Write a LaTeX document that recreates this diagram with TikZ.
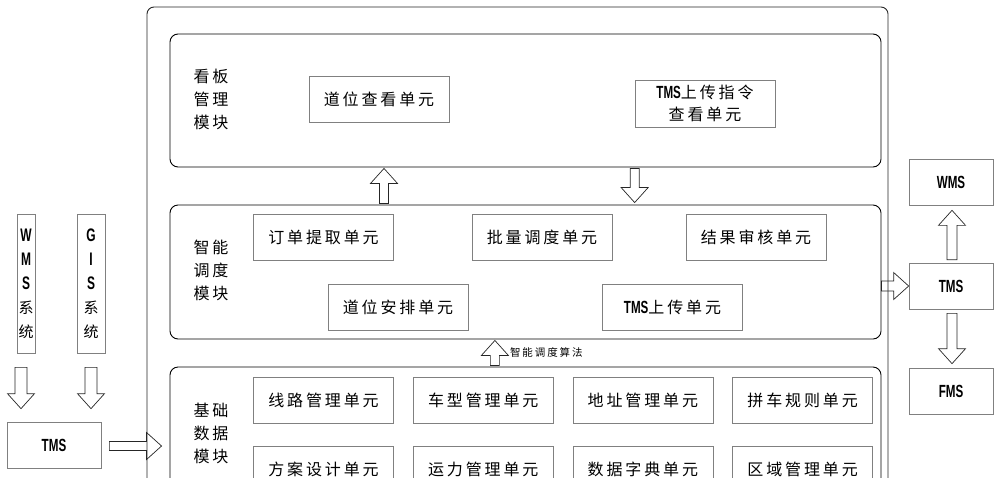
\documentclass[tikz,border=0pt]{standalone}
\usepackage{fontspec}
\setmainfont{Noto Sans CJK SC}
\newfontfamily\cnfont[LetterSpace=18]{Noto Sans CJK SC}
\newfontfamily\latfont[FakeStretch=0.66,Scale=1.1]{Liberation Sans}
\usetikzlibrary{positioning, calc}
\newcommand{\lat}[1]{{\latfont\bfseries #1}}
\newcommand{\vl}[1]{{\fontsize{16.5}{24}\selectfont\lat{#1}}}
% hollow block arrow between two points, optional shaft half-width
\newcommand{\fatarrow}[3][4.5pt]{%
  \coordinate (fa-s) at (#2);
  \coordinate (fa-e) at (#3);
  \coordinate (fa-m) at ($(fa-e)!15pt!(fa-s)$);
  \draw[fat] ($(fa-s)!#1!90:(fa-e)$) -- ($(fa-m)!#1!90:(fa-e)$)
    -- ($(fa-m)!13.5pt!90:(fa-e)$) -- (fa-e) -- ($(fa-m)!13.5pt!-90:(fa-e)$)
    -- ($(fa-m)!#1!-90:(fa-e)$) -- ($(fa-s)!#1!-90:(fa-e)$) -- cycle;}
\tikzset{
  sysbox/.style={draw=black!85, line width=0.9pt, rounded corners=7pt, minimum width=741pt, minimum height=503pt},
  module/.style={draw, line width=0.9pt, rounded corners=8pt, minimum width=711pt},
  unit/.style={draw=black!50, line width=0.7pt, minimum width=140pt, minimum height=46pt, inner sep=0pt, align=center, font=\cnfont\fontsize{16}{22}\selectfont},
  modlbl/.style={align=center, inner sep=0pt, font=\cnfont\fontsize{16}{23}\selectfont},
  extbox/.style={draw=black!50, line width=0.7pt, minimum height=46pt, inner sep=0pt, align=center, font=\fontsize{16}{20}\selectfont},
  vbox/.style={draw=black!50, line width=0.7pt, minimum height=139pt, inner sep=0pt, align=center, font=\cnfont\fontsize{15}{24}\selectfont},
  alglbl/.style={inner sep=0pt, anchor=west, font=\cnfont\fontsize{10.5}{12}\selectfont},
  fat/.style={draw=black!85, line width=0.7pt, line join=miter}
}

\begin{document}
\begin{tikzpicture}[x=1pt, y=-1pt]
\useasboundingbox (0,0) rectangle (1000,477);
\clip (0,0) rectangle (1000,477);
\node[sysbox] (sys) at (517.5,258.5) {};
% modules
\node[module, minimum height=133pt] (kb) at (525.5,100.5) {};
\node[module, minimum height=134pt] (zn) at (525.5,272) {};
\node[module, minimum height=138pt] (jc) at (525.5,436) {};
\node[modlbl] (kbl) at (211,99) {看板\\管理\\模块};
\node[modlbl] (znl) at (211,270) {智能\\调度\\模块};
\node[modlbl] (jcl) at (211,433) {基础\\数据\\模块};
% kanban units
\node[unit] (ddck) at (379,99) {道位查看单元};
\node[unit, minimum height=47pt] (tmsck) at (705,103.5) {\lat{TMS}上传指令\\查看单元};
% dispatch units
\node[unit] (ddtq) at (323.5,237.5) {订单提取单元};
\node[unit] (plds) at (542,237.5) {批量调度单元};
\node[unit] (jgsh) at (756,237.5) {结果审核单元};
\node[unit] (dwap) at (398,307) {道位安排单元};
\node[unit] (tmssc) at (672.5,307) {\lat{TMS}上传单元};
% base data units
\node[unit] (xlgl) at (323.5,400) {线路管理单元};
\node[unit, right=19pt of xlgl] (cxgl) {车型管理单元};
\node[unit, right=19pt of cxgl] (dzgl) {地址管理单元};
\node[unit, right=19pt of dzgl] (pcgz) {拼车规则单元};
\node[unit, below=23pt of xlgl] (fasj) {方案设计单元};
\node[unit, below=23pt of cxgl] (ylgl) {运力管理单元};
\node[unit, below=23pt of dzgl] (sjzd) {数据字典单元};
\node[unit, below=23pt of pcgz] (qygl) {区域管理单元};
% outside systems
\node[vbox, minimum width=18pt] (wms) at (26,283.5) {\vl{W}\\\vl{M}\\\vl{S}\\系\\统};
\node[vbox, minimum width=28pt] (gis) at (91,283.5) {\vl{G}\\\vl{I}\\\vl{S}\\系\\统};
\node[extbox, minimum width=94pt] (tmsl) at (54,445) {\lat{TMS}};
\node[extbox, minimum width=84pt] (wmsr) at (951,182) {\lat{WMS}};
\node[extbox, minimum width=84pt] (tmsr) at (951,286) {\lat{TMS}};
\node[extbox, minimum width=84pt] (fmsr) at (951,391) {\lat{FMS}};
% block arrows
\fatarrow[6pt]{$(wms.south)+(-5,14)$}{$(wms.south |- tmsl.north)+(-5,-13)$}
\fatarrow[6pt]{$(gis.south)+(0,14)$}{$(gis.south |- tmsl.north)+(0,-13)$}
\fatarrow{$(tmsl.east)+(8,1)$}{$(sys.west |- tmsl.east)+(15,1)$}
\fatarrow{$(ddck.south |- zn.north)+(5,-1)$}{$(ddck.south |- kb.south)+(5,1)$}
\fatarrow{$(tmsck.south west |- kb.south)+(0,1)$}{$(tmsck.south west |- zn.north)+(0,-2)$}
\coordinate (alg) at ($(zn.south west)!0.457!(zn.south east)$);
\fatarrow{$(alg |- jc.north)+(0,-1)$}{$(alg)+(0,1)$}
\node[alglbl] (algt) at ($(alg)+(15,13)$) {智能调度算法};
\fatarrow[5pt]{zn.east |- tmsr.west}{tmsr.west}
\fatarrow[5pt]{$(tmsr.north)+(1,-3)$}{$(wmsr.south)+(1,5)$}
\fatarrow[5pt]{$(tmsr.south)+(1,4)$}{$(fmsr.north)+(1,-4)$}
\end{tikzpicture}
\end{document}
